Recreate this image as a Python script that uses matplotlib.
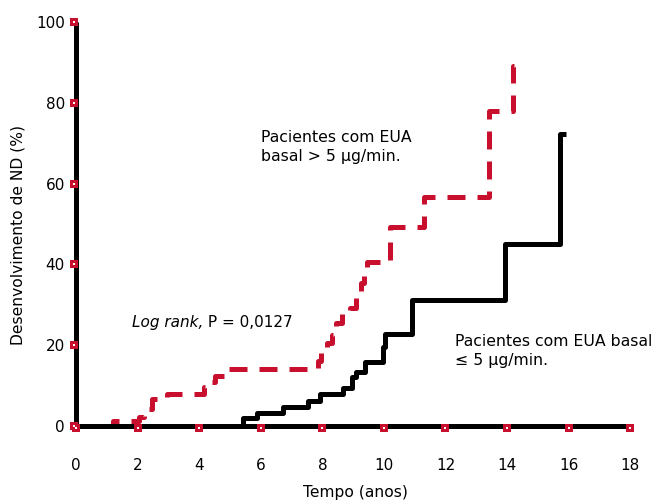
import numpy as np
import matplotlib
matplotlib.use('Agg')
import matplotlib.pyplot as plt

# Kaplan-Meier style step curves
red_t = [0, 1.2, 2.05, 2.2, 2.46, 2.95, 4.15, 4.35, 4.5, 4.9, 7.85, 7.95, 8.15, 8.3, 8.45, 8.65, 8.9,
         9.1, 9.25, 9.35, 9.45, 10.2, 11.3, 13.4, 14.2, 14.3]
red_y = [0, 1.2, 2.3, 4.2, 6.6, 7.9, 9.7, 11, 12.5, 14, 16, 18, 20.5, 22.5, 25.5, 28, 29.2,
         33, 35.5, 38, 40.7, 49.3, 56.8, 78, 89, 89]

black_t = [0, 5.43, 5.87, 6.73, 7.54, 7.92, 8.67, 8.95, 9.1, 9.4, 9.98, 10.05, 10.9, 13.93, 15.71, 15.93]
black_y = [0, 1.9, 3.2, 4.6, 6.2, 7.9, 9.3, 12.2, 13.4, 15.9, 19.5, 22.7, 31.2, 45, 72.2, 72.2]

x_ticks = list(range(0, 19, 2))
y_ticks = list(range(0, 101, 20))

red = '#c8102e'

fig = plt.figure(figsize=(6.54, 5.01), dpi=100)
ax = fig.add_axes([0.0927, 0.1255, 0.8945, 0.8547])

ax.plot(red_t, red_y, drawstyle='steps-post', color=red, lw=3.6,
        linestyle=(0, (3.6, 2.4)), dash_capstyle='butt', solid_capstyle='butt', zorder=2)
ax.plot(black_t, black_y, drawstyle='steps-post', color='black', lw=3.6,
        solid_capstyle='butt', zorder=2)

ax.set_xlim(-0.5, 18.5)
ax.set_ylim(-3, 103)

for side in ['top', 'right']:
    ax.spines[side].set_visible(False)
ax.spines['left'].set_position(('data', 0))
ax.spines['bottom'].set_position(('data', 0))
ax.spines['left'].set_bounds(0, 100)
ax.spines['bottom'].set_bounds(0, 18)
ax.spines['left'].set_linewidth(3.6)
ax.spines['bottom'].set_linewidth(3.6)
ax.spines['left'].set_capstyle('butt')

ax.set_xticks(x_ticks)
ax.set_yticks(y_ticks)
ax.tick_params(axis='x', length=0, pad=23, labelsize=11)
ax.tick_params(axis='y', length=0, pad=8, labelsize=11)

# red square tick markers with white centre, sitting just off the axis line
ax.scatter(x_ticks, [-0.5] * len(x_ticks), marker='s', s=30, color=red, zorder=4, clip_on=False, lw=0)
ax.scatter(x_ticks, [-0.5] * len(x_ticks), marker='s', s=3, color='white', zorder=5, clip_on=False, lw=0)
ax.scatter([-0.06] * len(y_ticks), y_ticks, marker='s', s=30, color=red, zorder=4, clip_on=False, lw=0)
ax.scatter([-0.06] * len(y_ticks), y_ticks, marker='s', s=3, color='white', zorder=5, clip_on=False, lw=0)

fig.text(18 / 654, 1 - 235 / 501, 'Desenvolvimento de ND (%)', rotation=90,
         ha='center', va='center', fontsize=11.2)
fig.text(355 / 654, 1 - 492 / 501, 'Tempo (anos)', ha='center', va='center', fontsize=11.2)

ax.text(6.0, 69.0, 'Pacientes com EUA\nbasal > 5 µg/min.', fontsize=11.3,
        ha='left', va='center', linespacing=1.3)
ax.text(12.3, 18.5, 'Pacientes com EUA basal\n≤ 5 µg/min.', fontsize=11.3,
        ha='left', va='center', linespacing=1.3)
t1 = ax.text(1.82, 25.5, 'Log rank,', fontsize=11, style='italic', ha='left', va='center')
ax.annotate(' P = 0,0127', xy=(1, 0), xycoords=t1, fontsize=11, ha='left', va='bottom')

fig.savefig('out.png', dpi=100)
